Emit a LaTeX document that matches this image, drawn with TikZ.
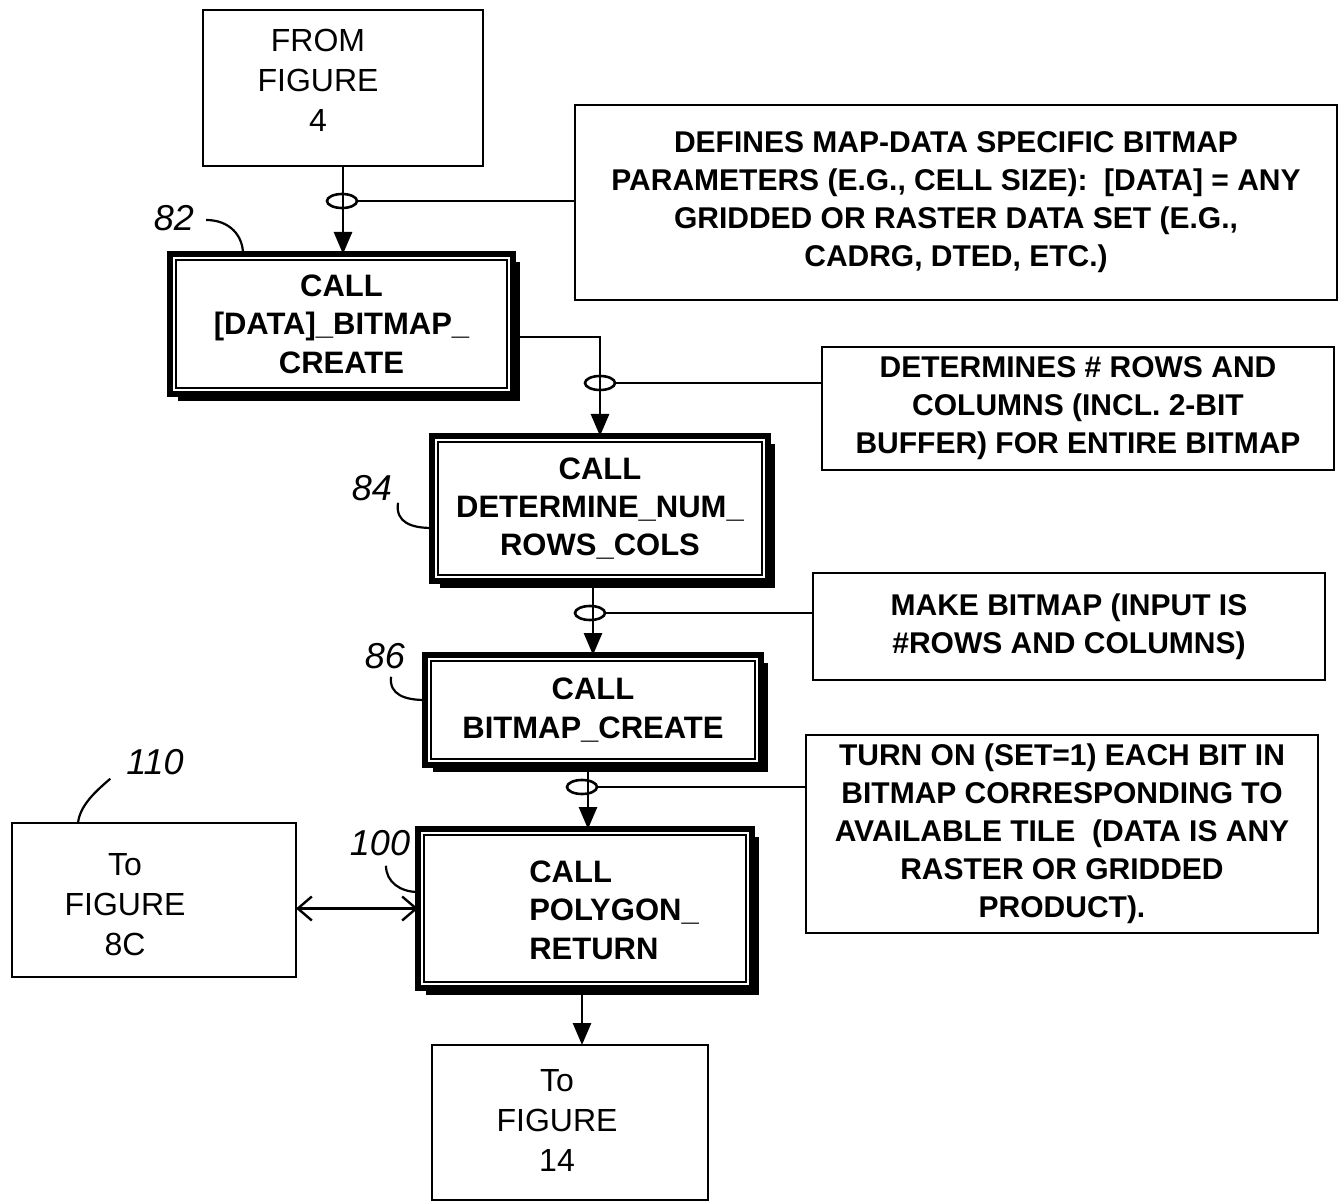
\documentclass[tikz,border=0pt]{standalone}
\usepackage{fontspec}
\setmainfont{Liberation Sans}
\usetikzlibrary{arrows.meta,shapes.geometric,calc}
\begin{document}
\begin{tikzpicture}[x=0.5pt,y=-0.5pt,
  every node/.style={inner sep=0pt,outer sep=0pt},
  plainbox/.style={draw,rectangle,line width=1.4pt},
  callbox/.style={draw,rectangle,line width=2.6pt},
  notebox/.style={draw,rectangle,line width=1.3pt,font=\bfseries\fontsize{15}{19}\selectfont,align=center},
  ctext/.style={font=\bfseries\fontsize{15.5}{19.2}\selectfont,align=center},
  htext/.style={font=\fontsize{16}{20}\selectfont,align=center},
  reflabel/.style={font=\itshape\fontsize{18}{18}\selectfont},
  flow/.style={line width=1.4pt,-{Triangle[length=11pt,width=9pt]}},
  dblflow/.style={line width=1.2pt,{Straight Barb[length=7pt,width=12pt]}-{Straight Barb[length=7pt,width=12pt]}},
  leader/.style={line width=0.9pt},
  tagmark/.style={ellipse,draw,line width=1.3pt,minimum width=15pt,minimum height=7pt},
  curveline/.style={line width=1.1pt}
]
\useasboundingbox (0,0) rectangle (1339,1203);

% boxes
\node[plainbox,minimum width=140pt,minimum height=78pt] (from) at (343,88) {};
\node[htext] (fromtxt) at (318,80) {FROM\\FIGURE\\4};

\node[notebox,minimum width=381pt,minimum height=97.5pt] (note1) at (956,202.5)
  {DEFINES MAP-DATA SPECIFIC BITMAP\\PARAMETERS (E.G., CELL SIZE):\ \ [DATA] = ANY\\GRIDDED OR RASTER DATA SET (E.G.,\\CADRG, DTED, ETC.)};

\node[callbox,ctext,minimum width=171.5pt,minimum height=70pt] (b82) at (341.5,324)
  {CALL\\{[DATA]\_BITMAP\_}\\CREATE};

\node[notebox,minimum width=256pt,minimum height=61.5pt] (note2) at (1078,408.5)
  {DETERMINES \# ROWS AND\\COLUMNS (INCL. 2-BIT\\BUFFER) FOR ENTIRE BITMAP};

\node[callbox,ctext,minimum width=168pt,minimum height=72.5pt] (b84) at (600,508.5)
  {CALL\\DETERMINE\_NUM\_\\ROWS\_COLS};

\node[notebox,minimum width=256pt,minimum height=53.5pt] (note3) at (1069,626.5)
  {MAKE BITMAP (INPUT IS\\\#ROWS AND COLUMNS)};

\node[callbox,ctext,minimum width=168pt,minimum height=55pt] (b86) at (593,710)
  {CALL\\BITMAP\_CREATE};

\node[notebox,minimum width=256pt,minimum height=99pt] (note4) at (1062,834)
  {TURN ON (SET=1) EACH BIT IN\\BITMAP CORRESPONDING TO\\AVAILABLE TILE\ \ (DATA IS ANY\\RASTER OR GRIDDED\\PRODUCT).};

\node[callbox,minimum width=167pt,minimum height=79.5pt] (b100) at (585,908.5) {};
\node[ctext,align=left] (b100txt) at (614,910) {CALL\\POLYGON\_\\RETURN};

\node[plainbox,minimum width=142pt,minimum height=77pt] (b110) at (154,900) {};
\node[htext] (b110txt) at (125,905) {To\\FIGURE\\8C};

\node[plainbox,minimum width=138pt,minimum height=77.5pt] (b14) at (570,1122.5) {};
\node[htext] (b14txt) at (557,1120) {To\\FIGURE\\14};

% double borders of call boxes
\foreach \n in {b82,b84,b86,b100}{
  \draw[line width=0.65pt] ([xshift=3pt,yshift=-3pt]\n.north west) rectangle ([xshift=-3pt,yshift=3pt]\n.south east);
  \draw[line width=2.2pt] ([xshift=2.4pt,yshift=-4pt]\n.north east) -- ([xshift=2.4pt,yshift=-2.4pt]\n.south east) -- ([xshift=4pt,yshift=-2.4pt]\n.south west);
}

% flow connectors
\draw[flow] (from.south) -- (from.south |- b82.north);
\draw[flow] ([yshift=-6.5pt]b82.east) -| (b84.north);
\draw[flow] (b86.north |- b84.south) -- (b86.north);
\draw[flow] ([xshift=1.5pt]b100.north |- b86.south) -- ([xshift=1.5pt]b100.north);
\draw[flow] ([xshift=-1.5pt]b100.south) -- ([xshift=-1.5pt]b100.south |- b14.north);
\draw[dblflow] (b100.west -| b110.east) -- (b100.west);

% tag ellipses and leaders to notes
\node[tagmark] (e1) at (342,201) {};
\node[tagmark] (e2) at (600,383) {};
\node[tagmark] (e3) at (590,613) {};
\node[tagmark] (e4) at (582,787) {};
\draw[leader] (e1.east) -- (e1.east -| note1.west);
\draw[leader] (e2.east) -- (e2.east -| note2.west);
\draw[leader] (e3.east) -- (e3.east -| note3.west);
\draw[leader] (e4.east) -- (e4.east -| note4.west);

% reference numerals
\node[reflabel] (l82) at (174,218) {82};
\node[reflabel] (l84) at (372,488) {84};
\node[reflabel] (l86) at (385,656) {86};
\node[reflabel] (l100) at (380,843) {100};
\node[reflabel] (l110) at (155,762) {110};

\draw[curveline] ([xshift=6pt,yshift=-1pt]l82.east) .. controls +(12pt,0pt) and +(0pt,9pt) .. ($(b82.north west)+(73,0)$);
\draw[curveline] ([xshift=3pt,yshift=-1pt]l84.south east) .. controls +(-1.5pt,-10pt) and +(-10pt,0pt) .. (b84.west |- 0,528);
\draw[curveline] ([xshift=3pt,yshift=-4pt]l86.south) .. controls +(-1pt,-9pt) and +(-10pt,0pt) .. (b86.west |- 0,700);
\draw[curveline] ([xshift=3pt,yshift=-5pt]l100.south) .. controls +(0pt,-8pt) and +(-9pt,0pt) .. (b100.west |- 0,892);
\draw[curveline] ([xshift=-8pt,yshift=-2pt]l110.south west) .. controls +(-7pt,-6pt) and +(1pt,9pt) .. (b110.north west -| 78,0);
\end{tikzpicture}
\end{document}
